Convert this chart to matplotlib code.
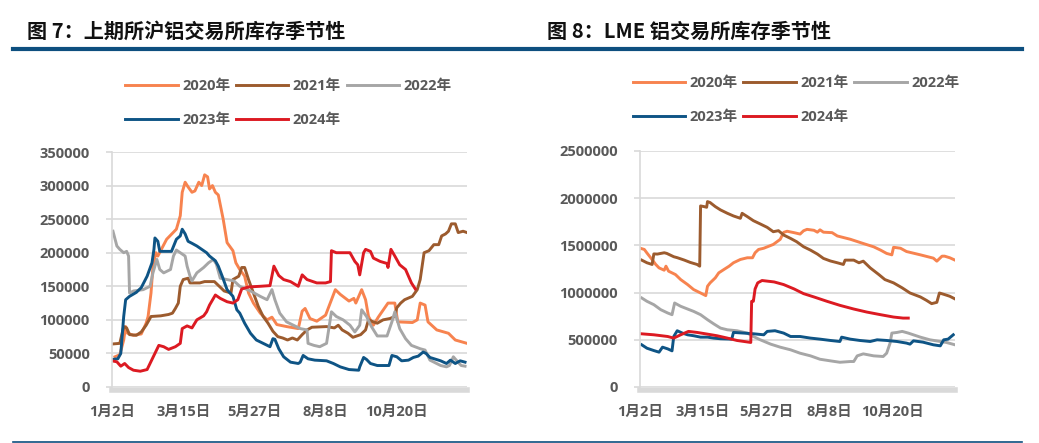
import matplotlib.pyplot as plt
from matplotlib.lines import Line2D
from matplotlib.ticker import FuncFormatter

plt.rcParams['font.family'] = ['Open Sans', 'Noto Sans CJK SC', 'DejaVu Sans']

# x = days since 1月2日
tick_days = [0, 73, 146, 219, 292]
tick_labels = ["1月2日", "3月15日", "5月27日", "8月8日", "10月20日"]
years = ["2020年", "2021年", "2022年", "2023年", "2024年"]
colors = ["#F7834F", "#9C5B2E", "#A6A6A6", "#0E5485", "#DC1A22"]

# ---- 上期所 (SHFE) ----
shfe_2020_x = [3, 8, 12, 14, 16, 22, 30, 35, 37, 40, 42, 45, 47, 56, 66, 70, 72, 75, 78, 82, 85, 89,
               92, 95, 98, 100, 103, 106, 109, 114, 118, 124, 127, 131, 136, 140, 145, 152, 159, 164,
               169, 179, 191, 195, 198, 203, 210, 219, 229, 234, 243, 248, 250, 256, 260, 263, 268,
               273, 283, 290, 293, 308, 313, 316, 321, 324, 333, 345, 352, 364]
shfe_2020_y = [45000, 48000, 70000, 90000, 80000, 77000, 79000, 95000, 105000, 140000, 180000, 200000,
               195000, 220000, 235000, 255000, 290000, 305000, 298000, 290000, 292000, 305000, 300000,
               316000, 313000, 295000, 300000, 290000, 286000, 250000, 215000, 203000, 185000, 175000,
               165000, 140000, 125000, 110000, 100000, 104000, 93000, 90000, 87000, 113000, 117000,
               102000, 98000, 107000, 145000, 138000, 128000, 132000, 125000, 145000, 130000, 105000,
               92000, 104000, 125000, 125000, 97000, 96000, 100000, 125000, 122000, 97000, 85000,
               80000, 70000, 65000]

shfe_2021_x = [0, 8, 12, 15, 18, 25, 30, 35, 40, 50, 58, 62, 65, 68, 70, 73, 78, 80, 90, 95, 105, 110,
               115, 122, 124, 130, 133, 136, 140, 145, 150, 155, 160, 165, 170, 175, 180, 185, 190, 195,
               200, 205, 220, 228, 232, 236, 242, 247, 255, 260, 263, 268, 272, 278, 285, 290, 292, 296,
               300, 308, 313, 316, 320, 325, 330, 335, 338, 342, 345, 348, 352, 355, 360, 364]
shfe_2021_y = [64000, 65000, 90000, 88000, 78000, 77000, 82000, 92000, 105000, 106000, 108000, 110000,
               117000, 125000, 150000, 160000, 162000, 155000, 155000, 157000, 157000, 150000, 143000,
               140000, 160000, 165000, 178000, 178000, 160000, 140000, 120000, 105000, 95000, 83000,
               75000, 73000, 70000, 73000, 70000, 78000, 85000, 89000, 90000, 88000, 92000, 85000,
               80000, 74000, 78000, 85000, 100000, 97000, 95000, 100000, 102000, 105000, 118000,
               125000, 130000, 135000, 145000, 160000, 200000, 203000, 212000, 212000, 225000, 228000,
               232000, 243000, 243000, 230000, 232000, 230000]

shfe_2022_x = [1, 5, 8, 12, 15, 17, 18, 22, 32, 39, 42, 46, 49, 53, 60, 63, 66, 71, 75, 77, 80, 82, 87,
               94, 99, 104, 107, 111, 118, 125, 131, 142, 152, 159, 164, 167, 172, 179, 186, 193, 200,
               201, 207, 213, 220, 225, 230, 237, 244, 249, 254, 256, 261, 266, 272, 282, 287, 290, 295,
               301, 307, 316, 321, 326, 337, 343, 346, 350, 353, 358, 362]
shfe_2022_y = [232000, 210000, 205000, 200000, 202000, 195000, 140000, 143000, 145000, 150000, 170000,
               190000, 175000, 170000, 175000, 195000, 204000, 199000, 195000, 180000, 165000, 158000,
               170000, 178000, 185000, 190000, 183000, 162000, 160000, 158000, 150000, 143000, 135000,
               130000, 145000, 130000, 110000, 97000, 92000, 87000, 85000, 65000, 62000, 60000, 65000,
               112000, 105000, 100000, 92000, 82000, 92000, 115000, 105000, 90000, 76000, 76000, 97000,
               112000, 87000, 72000, 62000, 57000, 55000, 40000, 32000, 30000, 32000, 45000, 40000,
               32000, 31000]

shfe_2023_x = [0, 6, 9, 12, 14, 18, 25, 30, 36, 41, 43, 44, 47, 49, 56, 61, 66, 70, 72, 75, 78, 82, 87,
               92, 97, 100, 106, 109, 113, 118, 124, 128, 131, 136, 142, 148, 155, 162, 165, 167, 171,
               176, 183, 191, 193, 196, 201, 208, 220, 227, 234, 243, 253, 254, 258, 261, 265, 272, 284,
               287, 292, 297, 304, 309, 314, 319, 322, 326, 337, 343, 347, 352, 357, 362]
shfe_2023_y = [41000, 42000, 50000, 105000, 130000, 135000, 141000, 148000, 165000, 185000, 205000,
               222000, 217000, 202000, 202000, 202000, 220000, 225000, 235000, 228000, 217000, 214000,
               210000, 205000, 200000, 195000, 188000, 180000, 165000, 145000, 135000, 115000, 110000,
               95000, 80000, 70000, 65000, 60000, 72000, 71000, 57000, 45000, 37000, 35000, 37000,
               47000, 42000, 40000, 39000, 35000, 30000, 26000, 25000, 30000, 44000, 41000, 35000,
               32000, 32000, 47000, 45000, 39000, 40000, 44000, 46000, 52000, 50000, 44000, 39000,
               35000, 40000, 35000, 39000, 37000]

shfe_2024_x = [0, 5, 9, 13, 17, 22, 29, 36, 39, 48, 53, 58, 65, 70, 72, 77, 82, 87, 94, 97, 100, 106,
               111, 118, 124, 129, 133, 140, 152, 162, 166, 171, 176, 183, 191, 195, 200, 210, 219, 224,
               225, 230, 244, 249, 252, 254, 258, 260, 265, 268, 275, 282, 283, 286, 290, 295, 301, 304,
               307, 311]
shfe_2024_y = [39000, 37500, 31000, 35000, 29000, 25000, 23500, 26000, 35000, 62000, 60000, 56000,
               60000, 65000, 87000, 91000, 88000, 100000, 106000, 112000, 122000, 137000, 132000,
               127000, 125000, 130000, 146000, 149000, 150000, 151000, 180000, 166000, 160000, 157000,
               150000, 167000, 160000, 155000, 155000, 157000, 203000, 200000, 200000, 187000, 182000,
               167000, 200000, 205000, 202000, 192000, 187000, 184000, 178000, 205000, 195000, 182000,
               175000, 165000, 155000, 146000]

# ---- LME ----
lme_2020_x = [1, 5, 8, 14, 18, 22, 28, 30, 33, 41, 47, 55, 62, 70, 76, 78, 81, 87, 91, 97, 103, 108,
              116, 124, 130, 133, 137, 143, 154, 162, 166, 170, 178, 185, 189, 193, 201, 205, 208, 212,
              222, 228, 243, 258, 270, 278, 285, 291, 293, 301, 308, 324, 339, 343, 349, 352, 358, 364]
lme_2020_y = [1468000, 1457000, 1420000, 1350000, 1300000, 1262000, 1237000, 1280000, 1227000,
              1191000, 1138000, 1085000, 1032000, 996000, 968000, 1067000, 1103000, 1156000, 1209000,
              1245000, 1280000, 1316000, 1351000, 1369000, 1369000, 1422000, 1457000, 1470000,
              1510000, 1564000, 1638000, 1650000, 1635000, 1620000, 1655000, 1670000, 1660000,
              1640000, 1665000, 1640000, 1635000, 1600000, 1565000, 1520000, 1485000, 1450000,
              1415000, 1400000, 1480000, 1470000, 1435000, 1400000, 1365000, 1333000, 1386000,
              1386000, 1369000, 1344000]

lme_2021_x = [2, 8, 14, 16, 20, 28, 31, 39, 43, 51, 58, 66, 69, 70, 74, 77, 78, 81, 87, 93, 101, 108,
              116, 118, 124, 131, 139, 147, 154, 160, 166, 174, 181, 189, 197, 205, 212, 220, 228, 235,
              237, 247, 253, 258, 266, 276, 283, 293, 303, 312, 324, 331, 337, 343, 346, 352, 358, 364]
lme_2021_y = [1344000, 1316000, 1298000, 1410000, 1408000, 1422000, 1415000, 1380000, 1370000,
              1345000, 1320000, 1298000, 1280000, 1918000, 1911000, 1904000, 1964000, 1954000,
              1911000, 1876000, 1840000, 1812000, 1787000, 1840000, 1805000, 1762000, 1727000,
              1691000, 1645000, 1656000, 1610000, 1574000, 1539000, 1486000, 1450000, 1408000,
              1362000, 1335000, 1316000, 1298000, 1344000, 1344000, 1316000, 1333000, 1262000,
              1191000, 1138000, 1103000, 1050000, 996000, 954000, 918000, 883000, 897000, 996000,
              979000, 961000, 933000]

lme_2022_x = [2, 8, 16, 24, 32, 37, 40, 47, 55, 62, 70, 78, 85, 93, 101, 112, 124, 131, 139, 151, 162,
              174, 185, 197, 208, 220, 231, 243, 247, 251, 258, 270, 281, 285, 289, 291, 297, 303, 310,
              324, 335, 347, 354, 364]
lme_2022_y = [943000, 908000, 872000, 819000, 784000, 766000, 890000, 855000, 826000, 801000, 766000,
              713000, 670000, 624000, 606000, 596000, 571000, 535000, 500000, 454000, 422000, 394000,
              358000, 330000, 294000, 277000, 262000, 270000, 270000, 330000, 351000, 330000, 323000,
              358000, 465000, 571000, 578000, 589000, 571000, 528000, 500000, 482000, 472000, 447000]

lme_2023_x = [2, 8, 16, 22, 26, 32, 37, 39, 43, 49, 55, 62, 70, 78, 85, 93, 106, 108, 120, 131, 143,
              147, 156, 166, 174, 185, 197, 208, 220, 231, 233, 243, 254, 266, 274, 285, 297, 308, 312,
              316, 327, 339, 347, 351, 356, 362]
lme_2023_y = [447000, 411000, 386000, 369000, 422000, 404000, 383000, 535000, 596000, 571000, 553000,
              543000, 528000, 528000, 518000, 511000, 507000, 578000, 571000, 564000, 553000, 589000,
              596000, 571000, 535000, 535000, 518000, 507000, 493000, 482000, 528000, 507000, 493000,
              482000, 500000, 493000, 482000, 465000, 454000, 489000, 475000, 447000, 436000, 500000,
              507000, 553000]

lme_2024_x = [1, 16, 32, 39, 47, 56, 66, 78, 89, 101, 112, 128, 129, 131, 133, 136, 141, 155, 166, 178,
              189, 201, 216, 231, 247, 262, 278, 293, 304, 310]
lme_2024_y = [564000, 553000, 535000, 518000, 553000, 589000, 578000, 560000, 543000, 518000, 493000,
              472000, 908000, 908000, 1039000, 1103000, 1128000, 1113000, 1085000, 1039000, 989000,
              954000, 908000, 865000, 826000, 794000, 766000, 741000, 730000, 730000]

W, H = 1039, 443
fig = plt.figure(figsize=(W / 100, H / 100), dpi=100)

txt_color = "#595959"
grid_color = "#D9D9D9"


def px_axes(x0, x1, ytop, ybot):
    return fig.add_axes([x0 / W, 1 - ybot / H, (x1 - x0) / W, (ybot - ytop) / H])


def draw_panel(ax, series, ymax, ystep, legend_anchor):
    handles = []
    for (xs, ys), c, lab in zip(series, colors, years):
        ln, = ax.plot(xs, ys, color=c, lw=2.1, label=lab, solid_joinstyle="round")
        handles.append(ln)
    ax.set_xlim(0, 364)
    ax.set_ylim(0, ymax)
    ax.set_yticks(range(0, ymax + 1, ystep))
    ax.yaxis.set_major_formatter(FuncFormatter(lambda v, p: f"{int(v)}"))
    ax.set_xticks(tick_days)
    ax.set_xticklabels(tick_labels)
    ax.grid(axis="y", color=grid_color, lw=1.2)
    ax.set_axisbelow(True)
    for s in ["top", "right"]:
        ax.spines[s].set_visible(False)
    ax.spines["left"].set_color(grid_color)
    ax.spines["left"].set_linewidth(1.2)
    ax.spines["bottom"].set_color(grid_color)
    ax.spines["bottom"].set_linewidth(4)
    ax.spines["bottom"].set_position(("outward", 2))
    ax.tick_params(axis="y", length=4, color=grid_color, width=1.2, pad=12,
                   labelsize=10.5, labelcolor=txt_color)
    ax.tick_params(axis="x", length=0, pad=11, labelsize=10.5, labelcolor=txt_color)
    for t in ax.get_xticklabels() + ax.get_yticklabels():
        t.set_fontweight("bold")
    # legend fills columns first, so reorder to read row by row
    order = [0, 3, 1, 4, 2]
    leg = ax.legend([handles[i] for i in order], [years[i] for i in order], ncol=3,
                    loc="lower left", bbox_to_anchor=legend_anchor, frameon=False,
                    handlelength=3.6, handletextpad=0.3, columnspacing=0.4,
                    labelspacing=1.35, prop={"size": 10.5, "weight": "bold"})
    for t in leg.get_texts():
        t.set_color(txt_color)


ax1 = px_axes(112, 467, 152, 387)
draw_panel(ax1, [(shfe_2020_x, shfe_2020_y), (shfe_2021_x, shfe_2021_y),
                 (shfe_2022_x, shfe_2022_y), (shfe_2023_x, shfe_2023_y),
                 (shfe_2024_x, shfe_2024_y)], 350000, 50000, (0.0, 1.05))

ax2 = px_axes(640, 955, 151, 387)
draw_panel(ax2, [(lme_2020_x, lme_2020_y), (lme_2021_x, lme_2021_y),
                 (lme_2022_x, lme_2022_y), (lme_2023_x, lme_2023_y),
                 (lme_2024_x, lme_2024_y)], 2500000, 500000, (-0.065, 1.06))

# titles and rules
fig.text(27 / W, 1 - 31 / H, "图 7：上期所沪铝交易所库存季节性", fontsize=14.5, fontweight="black",
         family=["Noto Sans CJK SC"], va="center", ha="left", color="#111111")
fig.text(547 / W, 1 - 31 / H, "图 8：LME 铝交易所库存季节性", fontsize=14.5, fontweight="black",
         family=["Noto Sans CJK SC"], va="center", ha="left", color="#111111")
rule_color = "#0D4F7F"
fig.add_artist(Line2D([13 / W, 1022 / W], [1 - 49 / H, 1 - 49 / H], color=rule_color, lw=3))
fig.add_artist(Line2D([13 / W, 1022 / W], [1 - 441.5 / H, 1 - 441.5 / H], color=rule_color, lw=1.2))

fig.savefig("out.png", dpi=100)
